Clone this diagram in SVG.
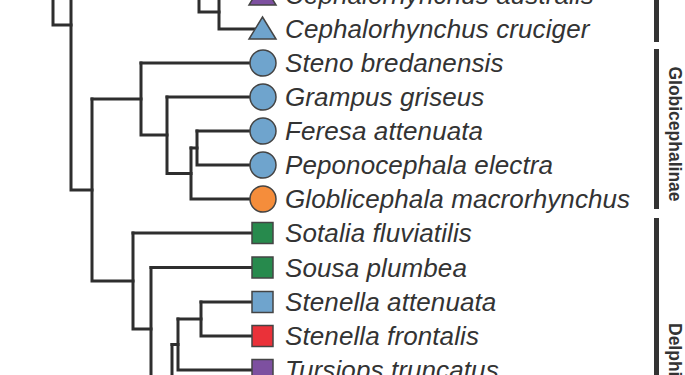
<svg xmlns="http://www.w3.org/2000/svg" width="685" height="375" viewBox="0 0 685 375">
<style>
.br{fill:none;stroke:#2e2e2e;stroke-width:3;stroke-linecap:square;stroke-linejoin:miter}
.lb{font-family:"Liberation Sans",Arial,sans-serif;font-style:italic;font-size:26px;letter-spacing:0.1px;fill:#333}
.cl{font-family:"Liberation Sans",Arial,sans-serif;font-weight:bold;font-size:17.5px;fill:#333}
.bar{fill:#333}
.sh{stroke:#444;stroke-width:1.5}
.blue{fill:#6fa4cd}.orange{fill:#f58d3b}.green{fill:#278a4d}.red{fill:#ea3139}.purple{fill:#7d50a0}
</style>
<g id="connectors">
<path class="br" d="M53,-10 V25 H71"/>
<path class="br" d="M71,-10 V190 H92"/>
<path class="br" d="M92,99 V281 H133"/>
<path class="br" d="M92,99 H141"/>
<path class="br" d="M141,63 V135 H167"/>
<path class="br" d="M141,63 H262"/>
<path class="br" d="M167,97 V173.5 H191"/>
<path class="br" d="M167,97 H262"/>
<path class="br" d="M191,148 V199 H262"/>
<path class="br" d="M191,148 H197"/>
<path class="br" d="M197,131 V165 H262"/>
<path class="br" d="M197,131 H262"/>
<path class="br" d="M199,-10 V12 H219"/>
<path class="br" d="M219,-5 V29 H262"/>
<path class="br" d="M219,-5 H262"/>
<path class="br" d="M133,233 V329 H151"/>
<path class="br" d="M133,233 H262"/>
<path class="br" d="M151,267.5 V385"/>
<path class="br" d="M151,267.5 H262"/>
<path class="br" d="M172,344.5 V385"/>
<path class="br" d="M172,344.5 H178"/>
<path class="br" d="M178,319 V370 H262"/>
<path class="br" d="M178,319 H201"/>
<path class="br" d="M201,302 V336 H262"/>
<path class="br" d="M201,302 H262"/>
</g>
<g id="n-ceph-australis"><polygon class="sh purple" points="262.5,-17 276,5 249,5"/><text class="lb" x="285" y="4">Cephalorhynchus australis</text></g>
<g id="n-ceph-cruciger"><polygon class="sh blue" points="262.5,17 276,39 249,39"/><text class="lb" x="285" y="38">Cephalorhynchus cruciger</text></g>
<g id="n-steno"><circle class="sh blue" cx="263" cy="63" r="13"/><text class="lb" x="285" y="72">Steno bredanensis</text></g>
<g id="n-grampus"><circle class="sh blue" cx="263" cy="97" r="13"/><text class="lb" x="285" y="106">Grampus griseus</text></g>
<g id="n-feresa"><circle class="sh blue" cx="263" cy="131" r="13"/><text class="lb" x="285" y="140">Feresa attenuata</text></g>
<g id="n-pepono"><circle class="sh blue" cx="263" cy="165" r="13"/><text class="lb" x="285" y="174">Peponocephala electra</text></g>
<g id="n-globi"><circle class="sh orange" cx="263" cy="199" r="13"/><text class="lb" x="285" y="208">Globlicephala macrorhynchus</text></g>
<g id="n-sotalia"><rect class="sh green" x="252" y="222.5" width="21" height="21"/><text class="lb" x="285" y="242">Sotalia fluviatilis</text></g>
<g id="n-sousa"><rect class="sh green" x="252" y="257" width="21" height="21"/><text class="lb" x="285" y="276.5">Sousa plumbea</text></g>
<g id="n-sten-att"><rect class="sh blue" x="252" y="291.5" width="21" height="21"/><text class="lb" x="285" y="311">Stenella attenuata</text></g>
<g id="n-sten-fro"><rect class="sh red" x="252" y="325.5" width="21" height="21"/><text class="lb" x="285" y="345">Stenella frontalis</text></g>
<g id="n-tursiops"><rect class="sh purple" x="252" y="359.5" width="21" height="21"/><text class="lb" x="285" y="379">Tursiops truncatus</text></g>
<g id="clades">
<rect class="bar" x="654" y="-5" width="5" height="47"/>
<rect class="bar" x="654" y="49" width="5" height="160"/>
<rect class="bar" x="654" y="218" width="5" height="170"/>
<text class="cl" transform="translate(669,134) rotate(90)" text-anchor="middle">Globicephalinae</text>
<text class="cl" transform="translate(669,323) rotate(90)">Delphininae</text>
</g>
</svg>
